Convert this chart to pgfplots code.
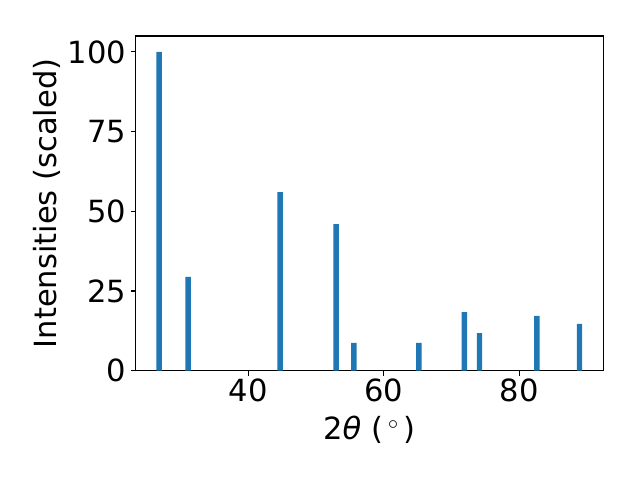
\documentclass[border=0pt]{standalone}
\usepackage{pgfplots}
\pgfplotsset{compat=1.18}
\usepackage{fontspec}
\setmainfont{DejaVu Sans}
\definecolor{mplblue}{HTML}{1F77B4}
\begin{document}
\begin{tikzpicture}[x=1pt,y=1pt]
\path[use as bounding box] (-97.7,-78.7) rectangle (363.1,266.9);
\begin{axis}[
  at={(0,0)}, anchor=south west,
  scale only axis, width=336.8pt, height=241pt,
  xmin=23.42, xmax=92.43, ymin=0, ymax=105,
  xtick={40,60,80}, ytick={0,25,50,75,100},
  tick align=outside, xtick pos=lower, ytick pos=left,
  major tick length=3.5pt,
  every tick/.style={black, line width=0.8pt},
  axis line style={line width=0.8pt},
  /pgf/number format/assume math mode=true,
  ticklabel style={font=\fontsize{22}{26}\selectfont},
  xticklabel style={yshift=1pt},
  label style={font=\fontsize{22}{26}\selectfont},
  xlabel={2\textit{θ} (\,$^{\circ}$\,)},
  ylabel={Intensities (scaled)},
  xlabel style={at={(axis description cs:0.5,0)}, anchor=center, yshift=-42.7pt},
  ylabel style={at={(axis description cs:0,0.5)}, anchor=center, yshift=63.9pt},
  ybar, bar width=0.8, bar shift=0pt,
]
\addplot[fill=mplblue, draw=none] coordinates {
(26.87,100) (31.15,29.4) (44.73,56.0) (52.99,46.0) (55.60,8.7)
(65.20,8.7) (71.91,18.4) (74.14,11.8) (82.61,17.2) (88.89,14.7)
};
\end{axis}
\end{tikzpicture}
\end{document}
